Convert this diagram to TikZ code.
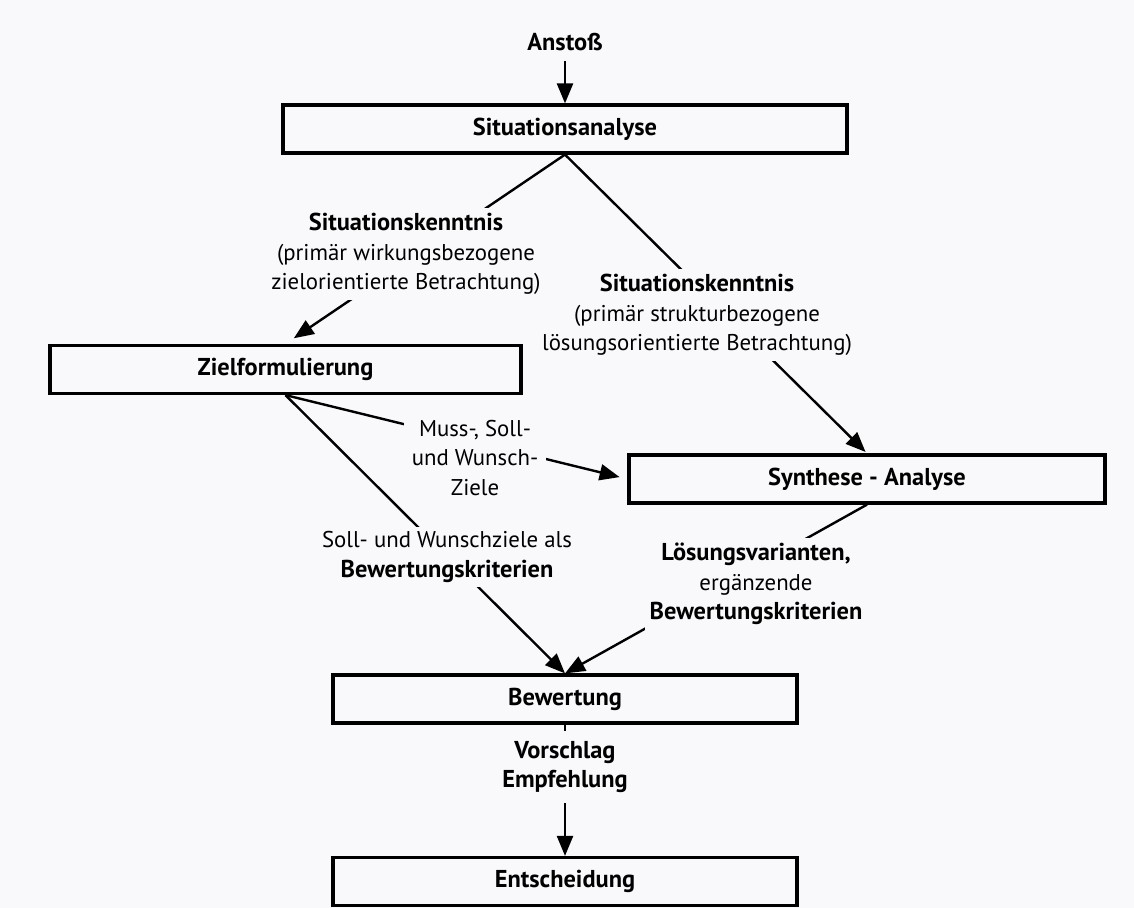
\documentclass[tikz,border=0pt]{standalone}
\usepackage{fontspec}
\setmainfont{PT Sans}
\usetikzlibrary{arrows.meta}
\definecolor{grund}{RGB}{249,249,252}
\newcommand\fett[1]{{\fontsize{12.2}{14.75}\selectfont\bfseries #1}}

\begin{document}
\begin{tikzpicture}[x=0.5pt,y=-0.5pt,
  box/.style={draw,line width=1.6pt,minimum height=24pt,inner sep=0pt,
    font=\fontsize{12.2}{14.75}\selectfont\bfseries},
  lbl/.style={fill=grund,align=center,inner sep=2.5pt,
    font=\fontsize{11.4}{14.75}\selectfont},
  verb/.style={line width=1.2pt},
  pfeil/.style={verb,-{Triangle[length=10pt,width=8pt]}}]
  \fill[grund] (0,0) rectangle (1134,908);
  \useasboundingbox (0,0) rectangle (1134,908);
  \node[lbl,inner sep=5pt] (anstoss) at (565,42) {\fett{Anstoß}};
  \node[box,minimum width=282pt] (sit) at (565,129) {Situationsanalyse};
  \node[box,minimum width=235.5pt] (ziel) at (285.5,369.5) {Zielformulierung};
  \node[box,minimum width=238pt] (syn) at (867,479) {Synthese - Analyse};
  \node[box,minimum width=232pt] (bew) at (565,699) {Bewertung};
  \node[box,minimum width=232pt] (ent) at (565,881.5) {Entscheidung};

  \draw[pfeil] (anstoss) -- (sit);
  \draw[pfeil,shorten >=5pt] (sit.south) -- (ziel.north);
  \draw[pfeil,shorten >=1pt] (sit.south) -- (syn.north);
  \draw[pfeil,shorten >=4pt] (ziel.south) -- (syn.west);
  \draw[pfeil] (ziel.south) -- (bew.north);
  \draw[pfeil] (syn.south) -- (bew.north);
  \draw[pfeil] (bew) -- (ent);

  \node[lbl] (kenntnisR) at (697,315) {\fett{Situationskenntnis}\\
    (primär strukturbezogene\\lösungsorientierte Betrachtung)};
  \node[lbl] (kenntnisL) at (406,254) {\fett{Situationskenntnis}\\
    (primär wirkungsbezogene\\zielorientierte Betrachtung)};
  \node[lbl,inner sep=4pt] (ziele) at (475,458) {Muss-, Soll-\\und Wunsch-\\Ziele};
  \node[lbl] (kriterien) at (447,557) {Soll- und Wunschziele als\\
    \fett{Bewertungskriterien}};
  \node[lbl] (varianten) at (756,584) {\fett{Lösungsvarianten,}\\
    ergänzende\\\fett{Bewertungskriterien}};
  \node[lbl,inner sep=5pt] (vorschlag) at (565,767) {\fett{Vorschlag}\\
    \fett{Empfehlung}};
\end{tikzpicture}
\end{document}
